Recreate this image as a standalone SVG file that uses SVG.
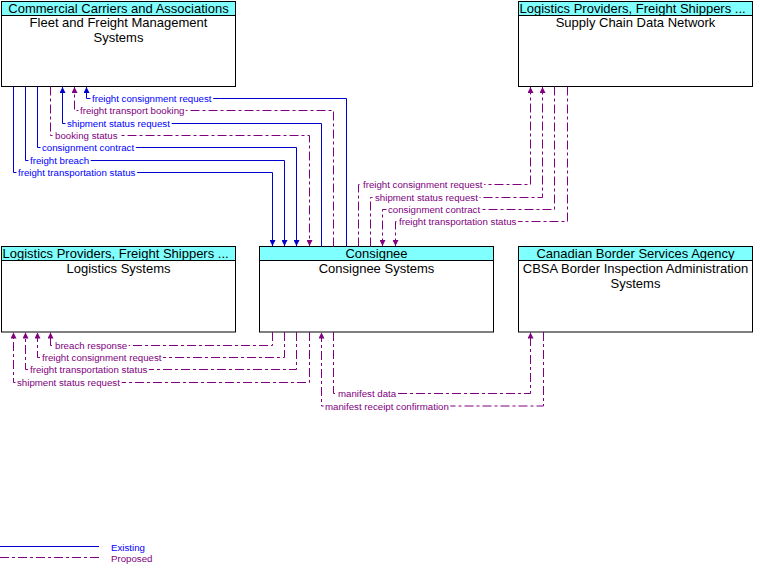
<svg xmlns="http://www.w3.org/2000/svg" width="761" height="575" viewBox="0 0 761 575">
<style>
.box{fill:#fff;stroke:#000;stroke-width:1}
.hdr{fill:#80ffff;stroke:#000;stroke-width:1}
.t{font-family:"Liberation Sans",Arial,sans-serif;font-size:13px;fill:#000}
.c{text-anchor:middle}
.ex{fill:none;stroke:#0000cc;stroke-width:1}
.pr{fill:none;stroke:#800080;stroke-width:1;stroke-dasharray:9 3 3 3}
.lb{font-family:"Liberation Sans",Arial,sans-serif;font-size:9.7px;stroke:#fff;stroke-width:4;stroke-linejoin:round;paint-order:stroke}
.lbe{fill:#0000ff}
.lbp{fill:#800080}
</style>
<defs>
<marker id="ae" viewBox="0 0 6 6" refX="6" refY="3" markerWidth="6" markerHeight="6" markerUnits="userSpaceOnUse" orient="auto"><path d="M0,0 L6,3 L0,6 z" fill="#0000cc"/></marker>
<marker id="ap" viewBox="0 0 6 6" refX="6" refY="3" markerWidth="6" markerHeight="6" markerUnits="userSpaceOnUse" orient="auto"><path d="M0,0 L6,3 L0,6 z" fill="#800080"/></marker>
</defs>

<g id="fleet">
<rect class="box" x="1.5" y="1.5" width="234" height="85"/>
<rect class="hdr" x="1.5" y="1.5" width="234" height="14"/>
<text class="t c" x="118.5" y="13">Commercial Carriers and Associations</text>
<text class="t c" x="118.5" y="27">Fleet and Freight Management</text>
<text class="t c" x="118.5" y="42">Systems</text>
</g>

<g id="supplychain">
<rect class="box" x="518.5" y="1.5" width="234" height="85"/>
<rect class="hdr" x="518.5" y="1.5" width="234" height="14"/>
<text class="t" x="519.5" y="13">Logistics Providers, Freight Shippers ...</text>
<text class="t c" x="635.5" y="27">Supply Chain Data Network</text>
</g>

<g id="logistics">
<rect class="box" x="1.5" y="246.5" width="234" height="85.5"/>
<rect class="hdr" x="1.5" y="246.5" width="234" height="14"/>
<text class="t" x="2.5" y="258">Logistics Providers, Freight Shippers ...</text>
<text class="t c" x="118.5" y="273">Logistics Systems</text>
</g>

<g id="consignee">
<rect class="box" x="259.5" y="246.5" width="234" height="85.5"/>
<rect class="hdr" x="259.5" y="246.5" width="234" height="14"/>
<text class="t c" x="376.5" y="258">Consignee</text>
<text class="t c" x="376.5" y="273">Consignee Systems</text>
</g>

<g id="cbsa">
<rect class="box" x="518.5" y="246.5" width="234" height="85.5"/>
<rect class="hdr" x="518.5" y="246.5" width="234" height="14"/>
<text class="t c" x="635.5" y="258">Canadian Border Services Agency</text>
<text class="t c" x="635.5" y="273">CBSA Border Inspection Administration</text>
<text class="t c" x="635.5" y="288">Systems</text>
</g>

<g id="connectors">
<polyline class="ex" points="346.5,246.5 346.5,98.5 86.5,98.5 86.5,87" marker-end="url(#ae)"/>
<polyline class="pr" points="333.5,246.5 333.5,110.5 74.5,110.5 74.5,87" marker-end="url(#ap)"/>
<polyline class="ex" points="321.5,246.5 321.5,123.5 62.5,123.5 62.5,87" marker-end="url(#ae)"/>
<polyline class="pr" points="50.5,86.5 50.5,135.5 309.5,135.5 309.5,246" marker-end="url(#ap)"/>
<polyline class="ex" points="37.5,86.5 37.5,147.5 296.5,147.5 296.5,246" marker-end="url(#ae)"/>
<polyline class="ex" points="25.5,86.5 25.5,160.5 284.5,160.5 284.5,246" marker-end="url(#ae)"/>
<polyline class="ex" points="13.5,86.5 13.5,172.5 272.5,172.5 272.5,246" marker-end="url(#ae)"/>

<polyline class="pr" points="358.5,246.5 358.5,184.5 530.5,184.5 530.5,87" marker-end="url(#ap)"/>
<polyline class="pr" points="370.5,246.5 370.5,197.5 542.5,197.5 542.5,87" marker-end="url(#ap)"/>
<polyline class="pr" points="554.5,86.5 554.5,209.5 382.5,209.5 382.5,246" marker-end="url(#ap)"/>
<polyline class="pr" points="567.5,86.5 567.5,221.5 395.5,221.5 395.5,246" marker-end="url(#ap)"/>

<polyline class="pr" points="272.5,332 272.5,345.5 50.5,345.5 50.5,332.5" marker-end="url(#ap)"/>
<polyline class="pr" points="284.5,332 284.5,357.5 37.5,357.5 37.5,332.5" marker-end="url(#ap)"/>
<polyline class="pr" points="296.5,332 296.5,369.5 25.5,369.5 25.5,332.5" marker-end="url(#ap)"/>
<polyline class="pr" points="309.5,332 309.5,382.5 13.5,382.5 13.5,332.5" marker-end="url(#ap)"/>
<polyline class="pr" points="333.5,332 333.5,393.5 530.5,393.5 530.5,332.5" marker-end="url(#ap)"/>
<polyline class="pr" points="543.5,332 543.5,406 321.5,406 321.5,332.5" marker-end="url(#ap)"/>

<text class="lb lbe" x="92" y="102">freight consignment request</text>
<text class="lb lbp" x="80" y="114">freight transport booking</text>
<text class="lb lbe" x="67" y="127">shipment status request</text>
<text class="lb lbp" x="55" y="139">booking status</text>
<text class="lb lbe" x="42" y="151">consignment contract</text>
<text class="lb lbe" x="30" y="164">freight breach</text>
<text class="lb lbe" x="18" y="176">freight transportation status</text>

<text class="lb lbp" x="363" y="188">freight consignment request</text>
<text class="lb lbp" x="375" y="201">shipment status request</text>
<text class="lb lbp" x="388" y="213">consignment contract</text>
<text class="lb lbp" x="399" y="225">freight transportation status</text>

<text class="lb lbp" x="55" y="349">breach response</text>
<text class="lb lbp" x="42" y="361">freight consignment request</text>
<text class="lb lbp" x="30" y="373">freight transportation status</text>
<text class="lb lbp" x="17" y="386">shipment status request</text>
<text class="lb lbp" x="338" y="397">manifest data</text>
<text class="lb lbp" x="325" y="409.5">manifest receipt confirmation</text>
</g>

<g id="legend">
<line class="ex" x1="0" y1="546.5" x2="99" y2="546.5"/>
<line class="pr" x1="0" y1="557.5" x2="99" y2="557.5"/>
<text class="lb lbe" x="111" y="551">Existing</text>
<text class="lb lbp" x="111" y="562">Proposed</text>
</g>
</svg>
